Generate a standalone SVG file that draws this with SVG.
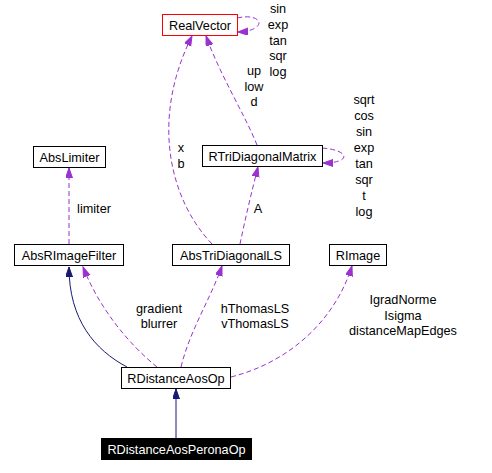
<svg xmlns="http://www.w3.org/2000/svg" width="492" height="473" viewBox="0 0 492 473">
<style>
text{font-family:"Liberation Sans",Arial,sans-serif;font-size:12.7px;fill:#000;text-anchor:middle}
.box{fill:#fff;stroke:#000;stroke-width:1}
.dash{fill:none;stroke:#9a32cd;stroke-width:1;stroke-dasharray:5,3}
.solid{fill:none;stroke:#191970;stroke-width:1}
</style>
<defs>
<marker id="ap" markerUnits="userSpaceOnUse" markerWidth="11" markerHeight="8" refX="10" refY="3.5" orient="auto"><path d="M0,0 L10,3.5 L0,7 z" fill="#9a32cd" stroke="#9a32cd"/></marker>
<marker id="an" markerUnits="userSpaceOnUse" markerWidth="11" markerHeight="8" refX="10" refY="3.5" orient="auto"><path d="M0,0 L10,3.5 L0,7 z" fill="#191970" stroke="#191970"/></marker>
</defs>
<rect width="492" height="473" fill="#fff"/>
<g id="connectors">
<path class="solid" d="M176,438 L176,389" marker-end="url(#an)"/>
<path class="solid" d="M127,367 C95,350 69,320 69,267" marker-end="url(#an)"/>
<path class="dash" d="M157,367 C130,345 100,310 83,267" marker-end="url(#ap)"/>
<path class="dash" d="M181,367 C190,330 210,300 222,266" marker-end="url(#ap)"/>
<path class="dash" d="M231,377 C290,362 335,320 352,266" marker-end="url(#ap)"/>
<path class="dash" d="M69,244 L69,168" marker-end="url(#ap)"/>
<path class="dash" d="M212,244 C170,200 150,120 192,36" marker-end="url(#ap)"/>
<path class="dash" d="M257,145 C245,115 220,75 206,36" marker-end="url(#ap)"/>
<path class="dash" d="M240,244 C245,220 252,190 258,167" marker-end="url(#ap)"/>
<path class="dash" d="M237,18 C264,12 268,31 238,32" marker-end="url(#ap)"/>
<path class="dash" d="M322,148 C350,150 352,163 323,163" marker-end="url(#ap)"/>
<text x="278" y="13">sin</text><text x="278" y="29">exp</text><text x="278" y="44.5">tan</text><text x="278" y="60">sqr</text><text x="278" y="75.5">log</text>
<text x="254" y="75">up</text><text x="254" y="91">low</text><text x="254" y="106">d</text>
<text x="364" y="104">sqrt</text><text x="364" y="120">cos</text><text x="364" y="136">sin</text><text x="364" y="152">exp</text><text x="364" y="168">tan</text><text x="364" y="184">sqr</text><text x="364" y="200">t</text><text x="364" y="216">log</text>
<text x="181" y="152">x</text><text x="181" y="168">b</text>
<text x="258" y="213">A</text>
<text x="94" y="213">limiter</text>
<text x="159" y="313">gradient</text><text x="159" y="328">blurrer</text>
<text x="255" y="313">hThomasLS</text><text x="255" y="328">vThomasLS</text>
<text x="403" y="304">IgradNorme</text><text x="403" y="320">Isigma</text><text x="403" y="335">distanceMapEdges</text>
</g>
<g id="RealVector"><rect x="162.5" y="14.5" width="75" height="21" fill="#fff" stroke="#ff0000"/><text x="200" y="30">RealVector</text></g>
<g id="RTriDiagonalMatrix"><rect class="box" x="202.5" y="145.5" width="120" height="21"/><text x="262.5" y="161">RTriDiagonalMatrix</text></g>
<g id="AbsLimiter"><rect class="box" x="33.5" y="146.5" width="72" height="21"/><text x="69.5" y="162">AbsLimiter</text></g>
<g id="AbsRImageFilter"><rect class="box" x="14.5" y="244.5" width="109" height="21"/><text x="69" y="260">AbsRImageFilter</text></g>
<g id="AbsTriDiagonalLS"><rect class="box" x="172.5" y="244.5" width="117" height="21"/><text x="231" y="260">AbsTriDiagonalLS</text></g>
<g id="RImage"><rect class="box" x="329.5" y="244.5" width="57" height="21"/><text x="358" y="260">RImage</text></g>
<g id="RDistanceAosOp"><rect class="box" x="121.5" y="367.5" width="109" height="21"/><text x="176" y="383">RDistanceAosOp</text></g>
<g id="RDistanceAosPeronaOp"><rect x="101.5" y="438.5" width="150" height="21" fill="#000" stroke="#000"/><text x="176.5" y="454" style="fill:#fff">RDistanceAosPeronaOp</text></g>
</svg>
